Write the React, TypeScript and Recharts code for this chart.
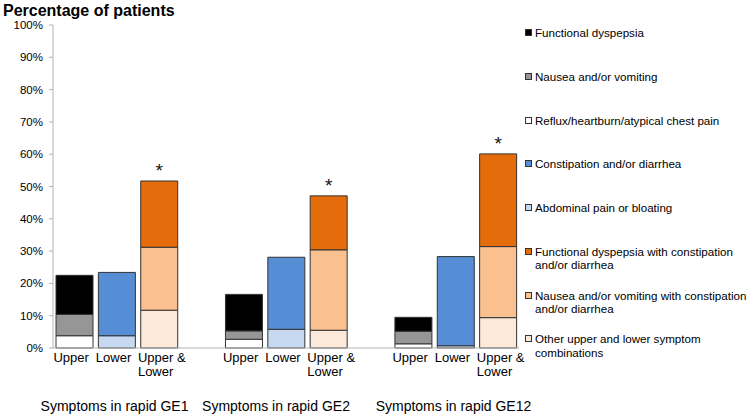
import { BarChart, Bar, XAxis, YAxis, LabelList } from "recharts";

const slots = ["g1-u", "g1-l", "g1-ul", "gap1", "g2-u", "g2-l", "g2-ul", "gap2", "g3-u", "g3-l", "g3-ul"];
const categories = ["Upper", "Lower", "Upper & Lower", "", "Upper", "Lower", "Upper & Lower", "", "Upper", "Lower", "Upper & Lower"];
const groupLabels = ["", "Symptoms in rapid GE1", "", "", "", "Symptoms in rapid GE2", "", "", "", "Symptoms in rapid GE12", ""];
const groupShift = [0, -2, 0, 0, 0, -10, 0, 0, 0, -2, 0];

// values in % of patients, null where the symptom group does not apply
const reflux = [3.8, null, null, null, 2.7, null, null, null, 1.3, null, null];
const nausea = [6.6, null, null, null, 2.6, null, null, null, 3.9, null, null];
const dyspepsia = [12.1, null, null, null, 11.3, null, null, null, 4.3, null, null];
const abdominal = [null, 3.8, null, null, null, 5.8, null, null, null, 0.7, null];
const constipation = [null, 19.6, null, null, null, 22.3, null, null, null, 27.6, null];
const otherCombos = [null, null, 11.7, null, null, null, 5.5, null, null, null, 9.4];
const nauseaConst = [null, null, 19.5, null, null, null, 24.9, null, null, null, 22.0];
const dyspepsiaConst = [null, null, 20.5, null, null, null, 16.7, null, null, null, 28.7];
const marks = ["", "", "*", "", "", "", "*", "", "", "", "*"];

const yTicks = [0, 10, 20, 30, 40, 50, 60, 70, 80, 90, 100];

const data = slots.map((slot, i) => ({
  slot,
  reflux: reflux[i],
  nausea: nausea[i],
  dyspepsia: dyspepsia[i],
  abdominal: abdominal[i],
  constipation: constipation[i],
  otherCombos: otherCombos[i],
  nauseaConst: nauseaConst[i],
  dyspepsiaConst: dyspepsiaConst[i],
  mark: marks[i],
}));

// stacking order, bottom to top
const series = [
  { key: "reflux", color: "#ffffff" },
  { key: "nausea", color: "#969696" },
  { key: "dyspepsia", color: "#000000" },
  { key: "abdominal", color: "#c6d9f1" },
  { key: "constipation", color: "#558ed5" },
  { key: "otherCombos", color: "#fde9d9" },
  { key: "nauseaConst", color: "#fac090" },
  { key: "dyspepsiaConst", color: "#e46c0a" },
];

const legendItems = [
  { label: ["Functional dyspepsia"], color: "#000000" },
  { label: ["Nausea and/or vomiting"], color: "#969696" },
  { label: ["Reflux/heartburn/atypical chest pain"], color: "#ffffff" },
  { label: ["Constipation and/or diarrhea"], color: "#558ed5" },
  { label: ["Abdominal pain or bloating"], color: "#c6d9f1" },
  { label: ["Functional dyspepsia with constipation", "and/or diarrhea"], color: "#e46c0a" },
  { label: ["Nausea and/or vomiting with constipation", "and/or diarrhea"], color: "#fac090" },
  { label: ["Other upper and lower symptom", "combinations"], color: "#fde9d9" },
];

const font = "'Liberation Sans', Arial, sans-serif";

function CategoryTick(props: any) {
  const { x, y, payload } = props;
  const i = slots.indexOf(payload.value);
  const label = categories[i];
  const group = groupLabels[i];
  const parts = label === "Upper & Lower" ? ["Upper &", "Lower"] : [label];
  return (
    <g>
      {parts.length === 1 ? (
        <text x={x - 3} y={y + 13.5} textAnchor="middle" fontSize={13} fill="#000" fontFamily={font}>
          {label}
        </text>
      ) : (
        parts.map((p, k) => (
          <text key={k} x={x - 21} y={y + 13.5 + k * 14} textAnchor="start" fontSize={13} fill="#000" fontFamily={font}>
            {p}
          </text>
        ))
      )}
      {group && (
        <text x={x + groupShift[i]} y={y + 63} textAnchor="middle" fontSize={14} fill="#000" fontFamily={font}>
          {group}
        </text>
      )}
    </g>
  );
}

function Star(props: any) {
  const { x, y, width, value } = props;
  if (!value) return null;
  return (
    <text x={x + width / 2} y={y - 4} textAnchor="middle" fontSize={19} fill="#111" fontFamily={font}>
      {value}
    </text>
  );
}

function LegendBox() {
  return (
    <div
      style={{
        position: "absolute",
        left: 520,
        top: 0,
        width: 230,
        height: 416,
        fontFamily: font,
        fontSize: 11.6,
        color: "#000",
      }}
    >
      {legendItems.map((item, i) => (
        <div key={i} style={{ position: "absolute", left: 5, top: 33.3 + i * 43.7 - 7, lineHeight: "13.5px" }}>
          <span
            style={{
              position: "absolute",
              left: 0,
              top: 3,
              width: 5,
              height: 5,
              background: item.color,
              border: "1px solid #333",
            }}
          />
          {item.label.map((l, k) => (
            <div key={k} style={{ paddingLeft: 10, whiteSpace: "nowrap" }}>
              {l}
            </div>
          ))}
        </div>
      ))}
    </div>
  );
}

export default function App() {
  return (
    <div style={{ position: "relative", width: 750, height: 416, background: "#fff" }}>
      <style>{`body{margin:0}`}</style>
      <div
        style={{
          position: "absolute",
          left: 3,
          top: 2,
          fontFamily: font,
          fontWeight: "bold",
          fontSize: 16,
          color: "#000",
          zIndex: 2,
        }}
      >
        Percentage of patients
      </div>
      <BarChart width={750} height={416} data={data} margin={{ top: 25, right: 231, bottom: 0, left: 0 }}>
        <XAxis
          dataKey="slot"
          interval={0}
          height={68}
          tickLine={false}
          tickSize={0}
          tickMargin={0}
          stroke="#b3b3b3"
          tick={<CategoryTick />}
        />
        <YAxis
          width={53}
          domain={[0, 100]}
          ticks={yTicks}
          interval={0}
          tickFormatter={(v: number) => `${v}%`}
          tickSize={4}
          tickMargin={6}
          stroke="#b3b3b3"
          tick={{ fill: "#000", fontSize: 11.5, fontFamily: font }}
        />
        {series.map((s) => (
          <Bar
            key={s.key}
            dataKey={s.key}
            stackId="a"
            fill={s.color}
            stroke="#333"
            strokeWidth={1}
            barSize={37}
            isAnimationActive={false}
          >
            {s.key === "dyspepsiaConst" && <LabelList dataKey="mark" content={<Star />} />}
          </Bar>
        ))}
      </BarChart>
      <LegendBox />
    </div>
  );
}
